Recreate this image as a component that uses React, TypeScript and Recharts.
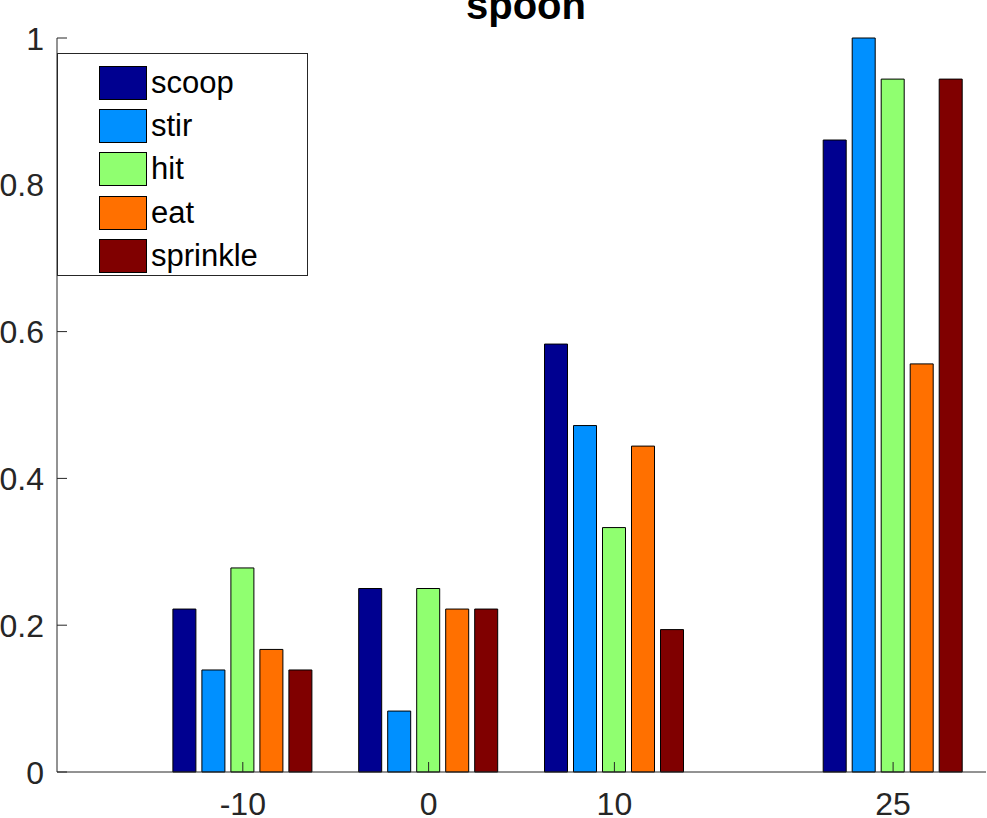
import React from "react";
import { BarChart, Bar, XAxis, YAxis, Legend } from "recharts";

const positions = [-10, 0, 10, 25];
const scoop = [0.222, 0.25, 0.583, 0.861];
const stir = [0.139, 0.083, 0.472, 1.0];
const hit = [0.278, 0.25, 0.333, 0.944];
const eat = [0.167, 0.222, 0.444, 0.556];
const sprinkle = [0.139, 0.222, 0.194, 0.944];

const xTicks = [-10, 0, 10, 25];
const yTicks = [0, 0.2, 0.4, 0.6, 0.8, 1];

const series = [
  { key: "scoop", color: "#000090" },
  { key: "stir", color: "#0090FF" },
  { key: "hit", color: "#90FF70" },
  { key: "eat", color: "#FF7000" },
  { key: "sprinkle", color: "#800000" },
];
const order = series.map((s) => s.key);

const data = positions.map((x, i) => ({
  x,
  scoop: scoop[i],
  stir: stir[i],
  hit: hit[i],
  eat: eat[i],
  sprinkle: sprinkle[i],
}));

const FONT = "'Liberation Sans', Arial, Helvetica, sans-serif";
const INK = "#262626";

const XTick = (props: any) => {
  const { x, y, payload } = props;
  return (
    <text x={x} y={y + 53} textAnchor="middle" fontSize={32} fontFamily={FONT} fill={INK}>
      {payload.value}
    </text>
  );
};

const YTick = (props: any) => {
  const { x, y, payload } = props;
  return (
    <text x={x - 23} y={y + 11.5} textAnchor="end" fontSize={32} fontFamily={FONT} fill={INK}>
      {String(payload.value)}
    </text>
  );
};

const NoTick = () => <g />;

const LegendBox = (props: any) => {
  // keep the series order, not alphabetical
  const items = [...(props.payload || [])].sort(
    (a: any, b: any) => order.indexOf(a.value) - order.indexOf(b.value)
  );
  return (
    <div
      style={{
        boxSizing: "border-box",
        width: 251,
        height: 223,
        border: `1px solid ${INK}`,
        background: "#fff",
        paddingTop: 7,
        paddingLeft: 41,
        fontFamily: FONT,
      }}
    >
      {items.map((it: any) => (
        <div key={it.value} style={{ display: "flex", alignItems: "center", height: 43.3 }}>
          <div
            style={{
              boxSizing: "border-box",
              width: 48,
              height: 34,
              background: it.color,
              border: "1px solid #000",
            }}
          />
          <span style={{ fontSize: 31, color: "#000", marginLeft: 4, lineHeight: "34px" }}>{it.value}</span>
        </div>
      ))}
    </div>
  );
};

export default function App() {
  return (
    <div style={{ position: "absolute", left: 0, top: 0, width: 987, height: 818, background: "#fff" }}>
      <BarChart
        width={987}
        height={818}
        data={data}
        margin={{ top: 38, right: 1, bottom: 0, left: 0 }}
        barSize={23}
        barGap={6}
      >
        <XAxis
          xAxisId="0"
          type="number"
          dataKey="x"
          domain={[-20, 30]}
          ticks={xTicks}
          interval={0}
          allowDataOverflow
          height={46}
          tickSize={-10}
          tickMargin={0}
          axisLine={{ stroke: INK, strokeWidth: 1 }}
          tickLine={{ stroke: INK, strokeWidth: 1 }}
          tick={XTick}
        />
        <XAxis
          xAxisId="top"
          orientation="top"
          type="number"
          dataKey="x"
          domain={[-20, 30]}
          ticks={xTicks}
          interval={0}
          allowDataOverflow
          height={0}
          tickSize={-10}
          axisLine={{ stroke: INK, strokeWidth: 1 }}
          tickLine={{ stroke: INK, strokeWidth: 1 }}
          tick={NoTick}
        />
        <YAxis
          yAxisId="0"
          type="number"
          domain={[0, 1]}
          ticks={yTicks}
          interval={0}
          width={57}
          tickSize={-10}
          tickMargin={0}
          axisLine={{ stroke: INK, strokeWidth: 1 }}
          tickLine={{ stroke: INK, strokeWidth: 1 }}
          tick={YTick}
        />
        <YAxis
          yAxisId="right"
          orientation="right"
          type="number"
          domain={[0, 1]}
          ticks={yTicks}
          interval={0}
          width={0}
          tickSize={-10}
          axisLine={{ stroke: INK, strokeWidth: 1 }}
          tickLine={{ stroke: INK, strokeWidth: 1 }}
          tick={NoTick}
        />
        <Legend
          layout="horizontal"
          verticalAlign="middle"
          align="center"
          content={LegendBox}
          wrapperStyle={{ position: "absolute", left: 57, top: 53, width: 251, height: 223 }}
        />
        {series.map((s) => (
          <Bar
            key={s.key}
            dataKey={s.key}
            name={s.key}
            xAxisId="0"
            yAxisId="0"
            fill={s.color}
            stroke="#000"
            strokeWidth={1}
            isAnimationActive={false}
          />
        ))}
      </BarChart>
      <svg
        width={987}
        height={818}
        style={{ position: "absolute", left: 0, top: 0, pointerEvents: "none" }}
      >
        <text x={526} y={19} textAnchor="middle" fontSize={40} fontWeight="bold" fontFamily={FONT} fill="#000">
          spoon
        </text>
      </svg>
    </div>
  );
}
